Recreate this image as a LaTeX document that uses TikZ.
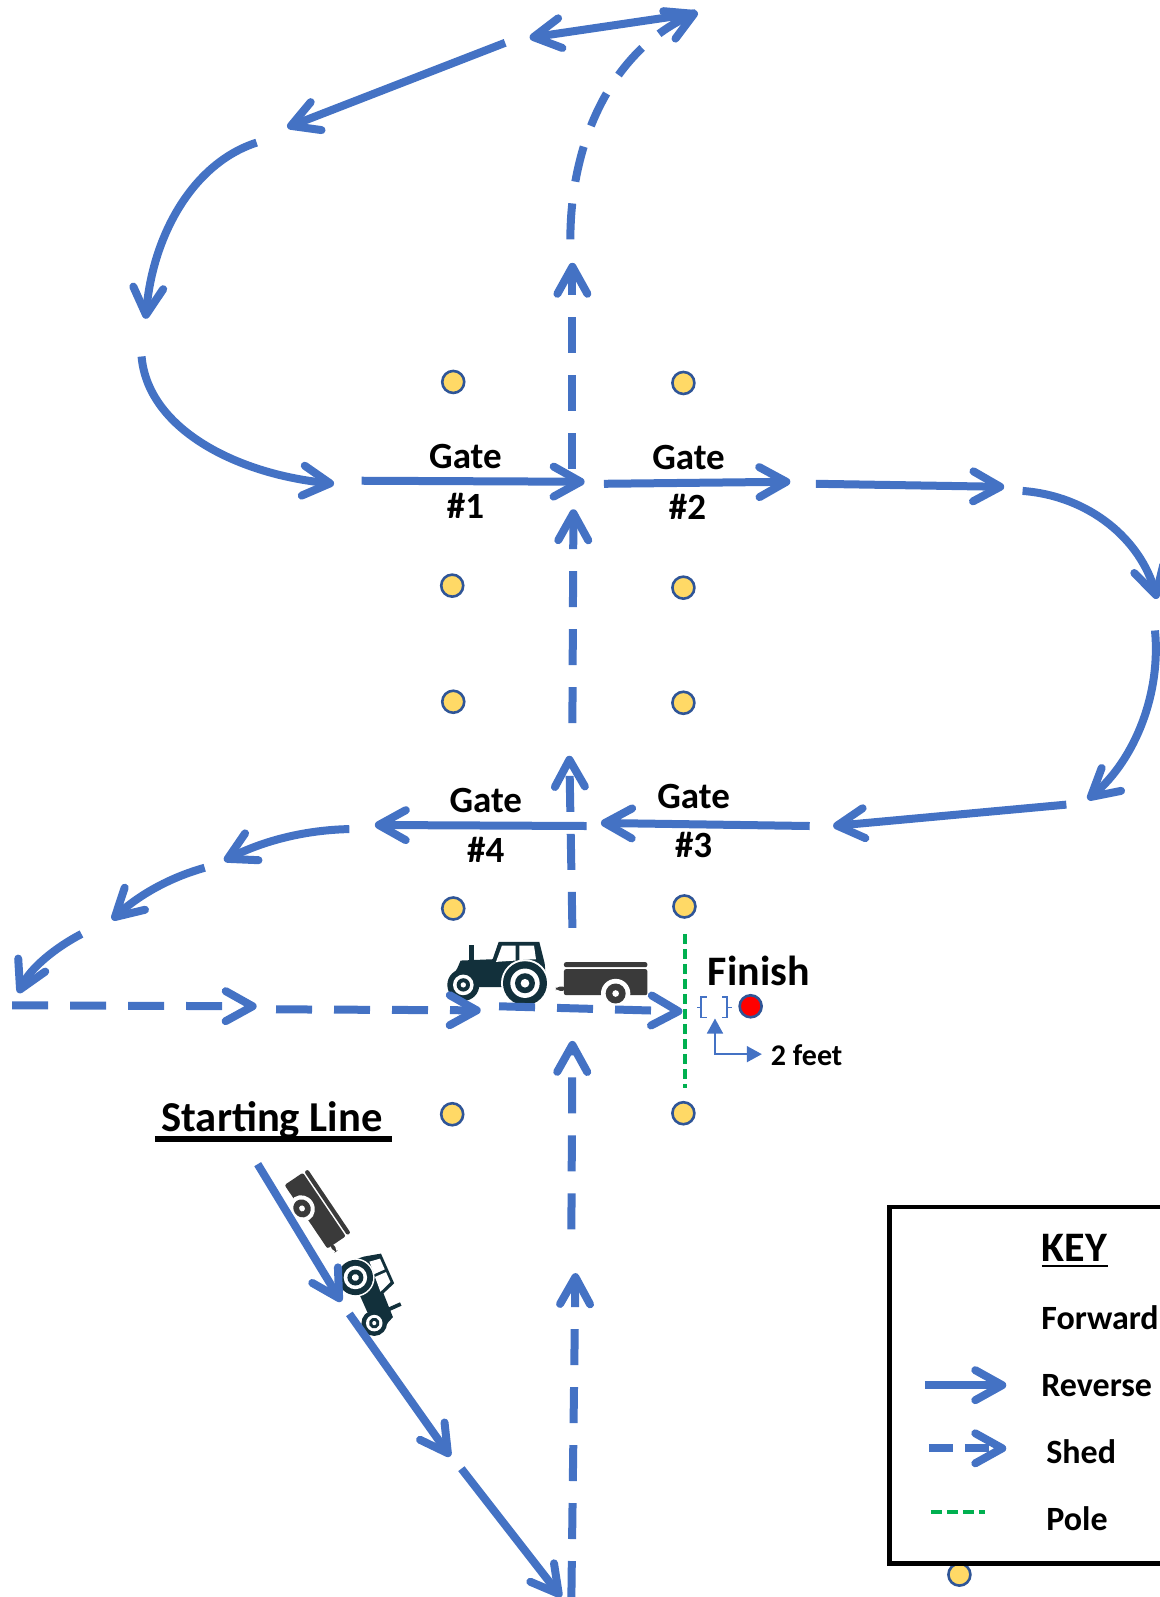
\documentclass[tikz,border=0pt]{standalone}
\usepackage{fontspec}
\setmainfont{Carlito}
\usetikzlibrary{arrows.meta}

\definecolor{pathblue}{HTML}{4472C4}
\definecolor{coneedge}{HTML}{2F5597}
\definecolor{conefill}{HTML}{FFD966}
\definecolor{poleline}{HTML}{00B050}
\definecolor{tractorcol}{HTML}{12303B}
\definecolor{trailercol}{HTML}{3A3A3A}

\tikzset{
  tractor/.pic={
    \begin{scope}[x=0.1667pt,y=-0.1667pt,shift={(-225,-200)}]
      \fill [tractorcol] (148,135) rectangle (162,185);
      \fill [tractorcol] (112,205) -- (122,182) -- (218,178) -- (236,126) -- (358,126) -- (374,190) -- (378,240) -- (270,262) -- (180,262) -- (95,232) -- cycle;
      \fill [white] (228,186) -- (246,137) -- (287,137) -- (287,182) -- cycle;
      \fill [white] (298,137) -- (342,137) -- (348,178) -- (298,180) -- cycle;
      \fill [white] (315,250) circle [radius=72];
      \fill [tractorcol] (315,250) circle [radius=66];
      \fill [white] (315,250) circle [radius=44];
      \fill [tractorcol] (315,250) circle [radius=30];
      \fill [white] (315,250) circle [radius=13];
      \fill [tractorcol] (130,255) circle [radius=48];
      \fill [white] (130,255) circle [radius=31];
      \fill [tractorcol] (130,255) circle [radius=20];
      \fill [white] (130,255) circle [radius=8];
    \end{scope}
  },
  trailer/.pic={
    \begin{scope}[x=0.1667pt,y=-0.1667pt,shift={(-555,-245)}]
      \fill [trailercol, rounded corners=2pt] (408,259) rectangle (440,272);
      \fill [trailercol, rounded corners=1pt] (432,186) rectangle (682,201);
      \fill [trailercol, rounded corners=1pt] (432,207) rectangle (682,285);
      \fill [white] (587,280) circle [radius=44];
      \fill [trailercol] (587,280) circle [radius=30];
      \fill [white] (587,280) circle [radius=10];
    \end{scope}
  }
}

\begin{document}
\begin{tikzpicture}[x=0.5093pt, y=-0.5093pt]
    \tikzstyle{rev} = [->, >={Straight Barb[round,length=13.5pt,width=15pt,line width=4pt]}, draw=pathblue, line width=4pt]
    \tikzstyle{shedline} = [rev, dash pattern=on 18pt off 11pt]
    \tikzstyle{cone} = [circle, minimum size=11pt, inner sep=0pt, draw=coneedge, fill=conefill, line width=1.3pt]
    \tikzstyle{label} = [font=\bfseries\fontsize{18.5}{20}\selectfont, inner sep=0pt]
    \tikzstyle{keytext} = [font=\bfseries\fontsize{17}{19}\selectfont, inner sep=0pt, anchor=west]

    \useasboundingbox (0,0) rectangle (1138,1568);

    % Tractors and trailers
    \pic at (486,949) {tractor};
    \pic at (594,964) {trailer};
    \pic [rotate=-56, xscale=-0.92, yscale=0.85] at (310,1189) {trailer};
    \pic [rotate=-66, xscale=-0.8, yscale=0.8] at (370.5,1270.5) {tractor};

    % Pylons
    \node [cone] (cone_a) at (445,375) {};
    \node [cone] (cone_b) at (671,376) {};
    \node [cone] (cone_c) at (444,575) {};
    \node [cone] (cone_d) at (671,577) {};
    \node [cone] (cone_e) at (445,689) {};
    \node [cone] (cone_f) at (671,690) {};
    \node [cone] (cone_g) at (445,892) {};
    \node [cone] (cone_h) at (672,890) {};
    \node [cone] (cone_i) at (444,1094) {};
    \node [cone] (cone_j) at (671,1093) {};
    \node [cone] (cone_k) at (942,1546) {};
    \node [cone, fill=red] (finish_dot) at (737,988) {};

    % Gate labels
    \node [label] (gate_one) at (457,448) {Gate};
    \node [label] (num_one) at (457,497) {\#1};
    \node [label] (gate_two) at (676,449) {Gate};
    \node [label] (num_two) at (675,498) {\#2};
    \node [label] (gate_three) at (681,782) {Gate};
    \node [label] (num_three) at (681,830) {\#3};
    \node [label] (gate_four) at (477,786) {Gate};
    \node [label] (num_four) at (477,834) {\#4};
    \node [label, font=\bfseries\fontsize{21}{23}\selectfont] (finish) at (745,953) {Finish};
    \node [label, font=\bfseries\fontsize{15}{17}\selectfont] (two_feet) at (792,1036) {2 feet};
    \node [label, font=\bfseries\fontsize{21.3}{23}\selectfont] (start_line) at (267,1100) {Starting Line};
    \coordinate (bar_a) at (152,1118);
    \coordinate (bar_b) at (385,1118);
    \draw [line width=3pt] (bar_a) -- (bar_b);

    % Forward and reverse path
    \coordinate (p1a) at (683,13);    \coordinate (p1b) at (520,37);
    \coordinate (p2a) at (496,42);    \coordinate (p2b) at (282,125);
    \coordinate (p3a) at (252,140);   \coordinate (p3b) at (143,313);
    \coordinate (p4a) at (139,350);   \coordinate (p4b) at (328,475);
    \coordinate (p5a) at (355,472);   \coordinate (p5b) at (574,473);
    \coordinate (p6a) at (593,475);   \coordinate (p6b) at (776,473);
    \coordinate (p7a) at (801,475);   \coordinate (p7b) at (986,478);
    \coordinate (p8a) at (1004,482);  \coordinate (p8b) at (1136,588);
    \coordinate (p9a) at (1134,619);  \coordinate (p9b) at (1068,785);
    \coordinate (p10a) at (1047,790); \coordinate (p10b) at (818,811);
    \coordinate (p11a) at (795,811);  \coordinate (p11b) at (590,808);
    \coordinate (p12a) at (576,811);  \coordinate (p12b) at (368,810);
    \coordinate (p13a) at (343,814);  \coordinate (p13b) at (220,845);
    \coordinate (p14a) at (201,852);  \coordinate (p14b) at (110,903);
    \coordinate (p15a) at (80,917);   \coordinate (p15b) at (18,975);
    \coordinate (p16a) at (253,1143); \coordinate (p16b) at (335,1278);
    \coordinate (p17a) at (343,1290); \coordinate (p17b) at (442,1430);
    \coordinate (p18a) at (453,1442); \coordinate (p18b) at (551,1568);

    \draw [rev] (p1a) -- (p1b);
    \draw [rev] (p2a) -- (p2b);
    \draw [rev] (p3a) .. controls (190,160) and (150,230) .. (p3b);
    \draw [rev] (p4a) .. controls (145,420) and (230,465) .. (p4b);
    \draw [rev] (p5a) -- (p5b);
    \draw [rev] (p6a) -- (p6b);
    \draw [rev] (p7a) -- (p7b);
    \draw [rev] (p8a) .. controls (1070,487) and (1120,530) .. (p8b);
    \draw [rev] (p9a) .. controls (1140,680) and (1115,745) .. (p9b);
    \draw [rev] (p10a) -- (p10b);
    \draw [rev] (p11a) -- (p11b);
    \draw [rev] (p12a) -- (p12b);
    \draw [rev] (p13a) .. controls (300,815) and (260,825) .. (p13b);
    \draw [rev] (p14a) .. controls (165,862) and (135,880) .. (p14b);
    \draw [rev] (p15a) .. controls (55,930) and (30,950) .. (p15b);
    \draw [rev] (p16a) -- (p16b);
    \draw [rev] (p17a) -- (p17b);
    \draw [rev] (p18a) -- (p18b);

    % Shed path
    \coordinate (s1a) at (12,987);   \coordinate (s1b) at (252,988);
    \coordinate (s2a) at (271,991);  \coordinate (s2b) at (472,992);
    \coordinate (s3a) at (490,988);  \coordinate (s3b) at (670,993);
    \coordinate (s4a) at (561,1568); \coordinate (s4b) at (565,1250);
    \coordinate (s5a) at (561,1207); \coordinate (s5b) at (562,1022);
    \coordinate (s6a) at (562,911);  \coordinate (s6b) at (559,742);
    \coordinate (s7a) at (562,710);  \coordinate (s7b) at (563,500);
    \coordinate (s8a) at (562,460);  \coordinate (s8b) at (562,258);
    \coordinate (s9a) at (560,235);  \coordinate (s9b) at (685,12);

    \draw [shedline] (s1a) -- (s1b);
    \draw [shedline] (s2a) -- (s2b);
    \draw [shedline] (s3a) -- (s3b);
    \draw [shedline] (s4a) -- (s4b);
    \draw [shedline] (s5a) -- (s5b);
    \draw [shedline] (s6a) -- (s6b);
    \draw [shedline] (s7a) -- (s7b);
    \draw [shedline] (s8a) -- (s8b);
    \draw [shedline] (s9a) .. controls (560,140) and (600,50) .. (s9b);

    % Finish pole and bracket
    \coordinate (pole_a) at (673,917);
    \coordinate (pole_b) at (673,1068);
    \draw [poleline, line width=2pt, dash pattern=on 5pt off 2.5pt] (pole_a) -- (pole_b);
    \draw [pathblue, line width=0.8pt] (694,979) -- (688,979) -- (688,989) -- (684,989) (688,989) -- (688,999) -- (694,999);
    \draw [pathblue, line width=0.8pt] (709,979) -- (714,979) -- (714,989) -- (719,989) (714,989) -- (714,999) -- (709,999);
    \coordinate (feet_up) at (702,1000);
    \coordinate (feet_corner) at (702,1035);
    \coordinate (feet_right) at (748,1035);
    \draw [{Triangle[length=7.5pt,width=8pt]}-{Triangle[length=7.5pt,width=8pt]}, pathblue, line width=0.8pt] (feet_up) -- (feet_corner) -- (feet_right);

    % Key
    \node [draw, line width=2.3pt, inner sep=0pt, minimum width=141pt, minimum height=178.2pt] (key_box) at (1012,1360) {};
    \node [label, font=\bfseries\fontsize{21}{23}\selectfont] (key_title) at (1055,1225) {KEY};
    \coordinate (key_ul_a) at (1023,1243);
    \coordinate (key_ul_b) at (1088,1243);
    \draw [line width=1.3pt] (key_ul_a) -- (key_ul_b);
    \node [keytext] (key_forward) at (1022,1294) {Forward};
    \node [keytext] (key_reverse) at (1022,1360) {Reverse};
    \node [keytext] (key_shed) at (1027,1425) {Shed};
    \node [keytext] (key_pole) at (1027,1491) {Pole};
    \coordinate (kr_a) at (908,1360); \coordinate (kr_b) at (988,1360);
    \coordinate (ks_a) at (912,1422); \coordinate (ks_b) at (988,1422);
    \coordinate (kp_a) at (914,1485); \coordinate (kp_b) at (967,1485);
    \draw [rev] (kr_a) -- (kr_b);
    \draw [rev, dash pattern=on 12pt off 6pt] (ks_a) -- (ks_b);
    \draw [poleline, line width=2pt, dash pattern=on 5.5pt off 2.5pt] (kp_a) -- (kp_b);
\end{tikzpicture}
\end{document}
